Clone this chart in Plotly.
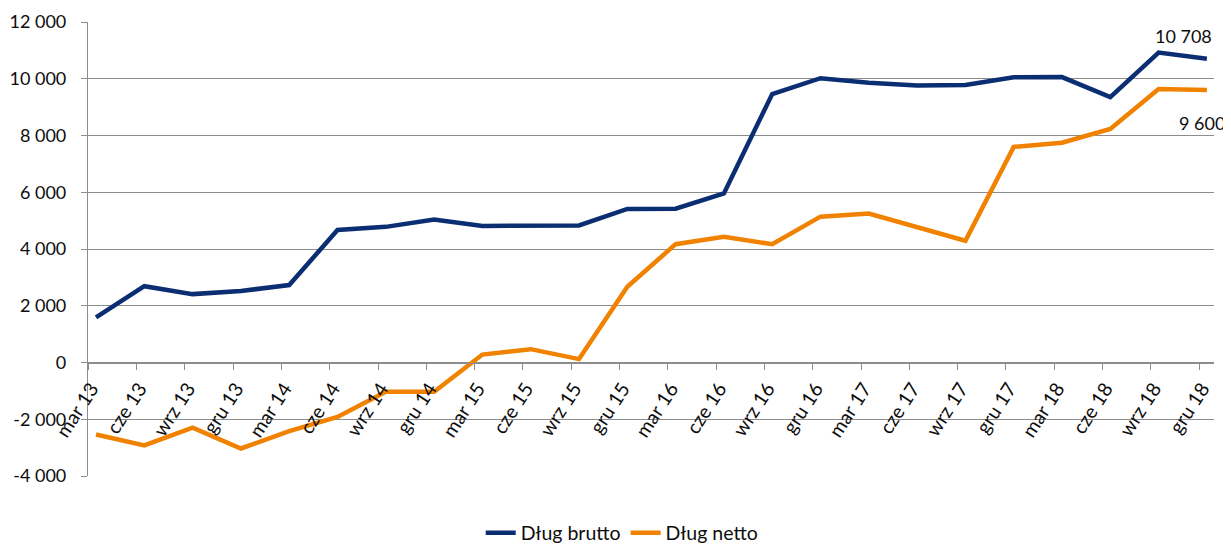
import numpy as np
import plotly.graph_objects as go

categories = ["mar 13", "cze 13", "wrz 13", "gru 13", "mar 14", "cze 14", "wrz 14", "gru 14",
              "mar 15", "cze 15", "wrz 15", "gru 15", "mar 16", "cze 16", "wrz 16", "gru 16",
              "mar 17", "cze 17", "wrz 17", "gru 17", "mar 18", "cze 18", "wrz 18", "gru 18"]
brutto = [1590, 2690, 2410, 2520, 2730, 4670, 4780, 5040, 4810, 4820, 4830, 5410,
          5420, 5960, 9460, 10020, 9860, 9760, 9780, 10050, 10060, 9350, 10920, 10708]
netto = [-2540, -2920, -2300, -3030, -2420, -1920, -1035, -1030, 280, 470, 120, 2670,
         4170, 4430, 4170, 5140, 5250, 4750, 4290, 7600, 7745, 8230, 9640, 9600]
y_ticks = [-4000, -2000, 0, 2000, 4000, 6000, 8000, 10000, 12000]
series_names = ["Dług brutto", "Dług netto"]


def fmt(v):
    return f"{v:,}".replace(",", " ")


y_ticktext = [fmt(v) for v in y_ticks]
idx = np.arange(len(categories))

NAVY = "#0B2E73"
ORANGE = "#F08200"
GRID = "#8C8C8C"
FONT = "Lato"
TXT = "#0d0d0d"

fig = go.Figure()
fig.add_trace(go.Scatter(x=idx, y=brutto, mode="lines", name=series_names[0],
                         line=dict(color=NAVY, width=4.5)))
fig.add_trace(go.Scatter(x=idx, y=netto, mode="lines", name=series_names[1],
                         line=dict(color=ORANGE, width=4.5)))

fig.add_annotation(x=idx[-1], y=brutto[-1], text=fmt(brutto[-1]), showarrow=False,
                   xanchor="right", yanchor="middle", xshift=7, yshift=23,
                   font=dict(family=FONT, size=18, color=TXT))
fig.add_annotation(x=idx[-1], y=netto[-1], text=fmt(netto[-1]), showarrow=False,
                   xanchor="right", yanchor="middle", xshift=20, yshift=-33,
                   font=dict(family=FONT, size=18, color=TXT))

fig.update_layout(
    width=1223, height=537,
    margin=dict(l=80, r=17, t=14, b=69, autoexpand=False),
    paper_bgcolor="white", plot_bgcolor="white",
    font=dict(family=FONT, size=18, color=TXT),
    showlegend=True,
    legend=dict(orientation="h", xref="paper", yref="container", x=0.474, y=0.022,
                xanchor="center", yanchor="middle", font=dict(size=19.5),
                bgcolor="rgba(0,0,0,0)"),
    xaxis=dict(range=[-0.166, 23.147], anchor="free", position=0.25,
               showgrid=False, zeroline=False, showline=True, linecolor=GRID, linewidth=1.2,
               ticks="outside", ticklen=6, tickcolor=GRID, tickwidth=1.2,
               tickmode="array", tickvals=idx - 0.16, ticktext=categories,
               tickangle=-57, ticklabelshift=3, tickfont=dict(size=19.5)),
    yaxis=dict(range=[-4000, 12000], domain=[0, 1], tickmode="array",
               tickvals=y_ticks, ticktext=y_ticktext,
               showgrid=True, gridcolor=GRID, gridwidth=1.2, zeroline=False,
               showline=True, linecolor=GRID, linewidth=1.2,
               ticks="outside", ticklen=6, tickcolor=GRID, tickwidth=1.2,
               ticklabelstandoff=11, tickfont=dict(size=18)),
)

fig.write_html("out.html")
